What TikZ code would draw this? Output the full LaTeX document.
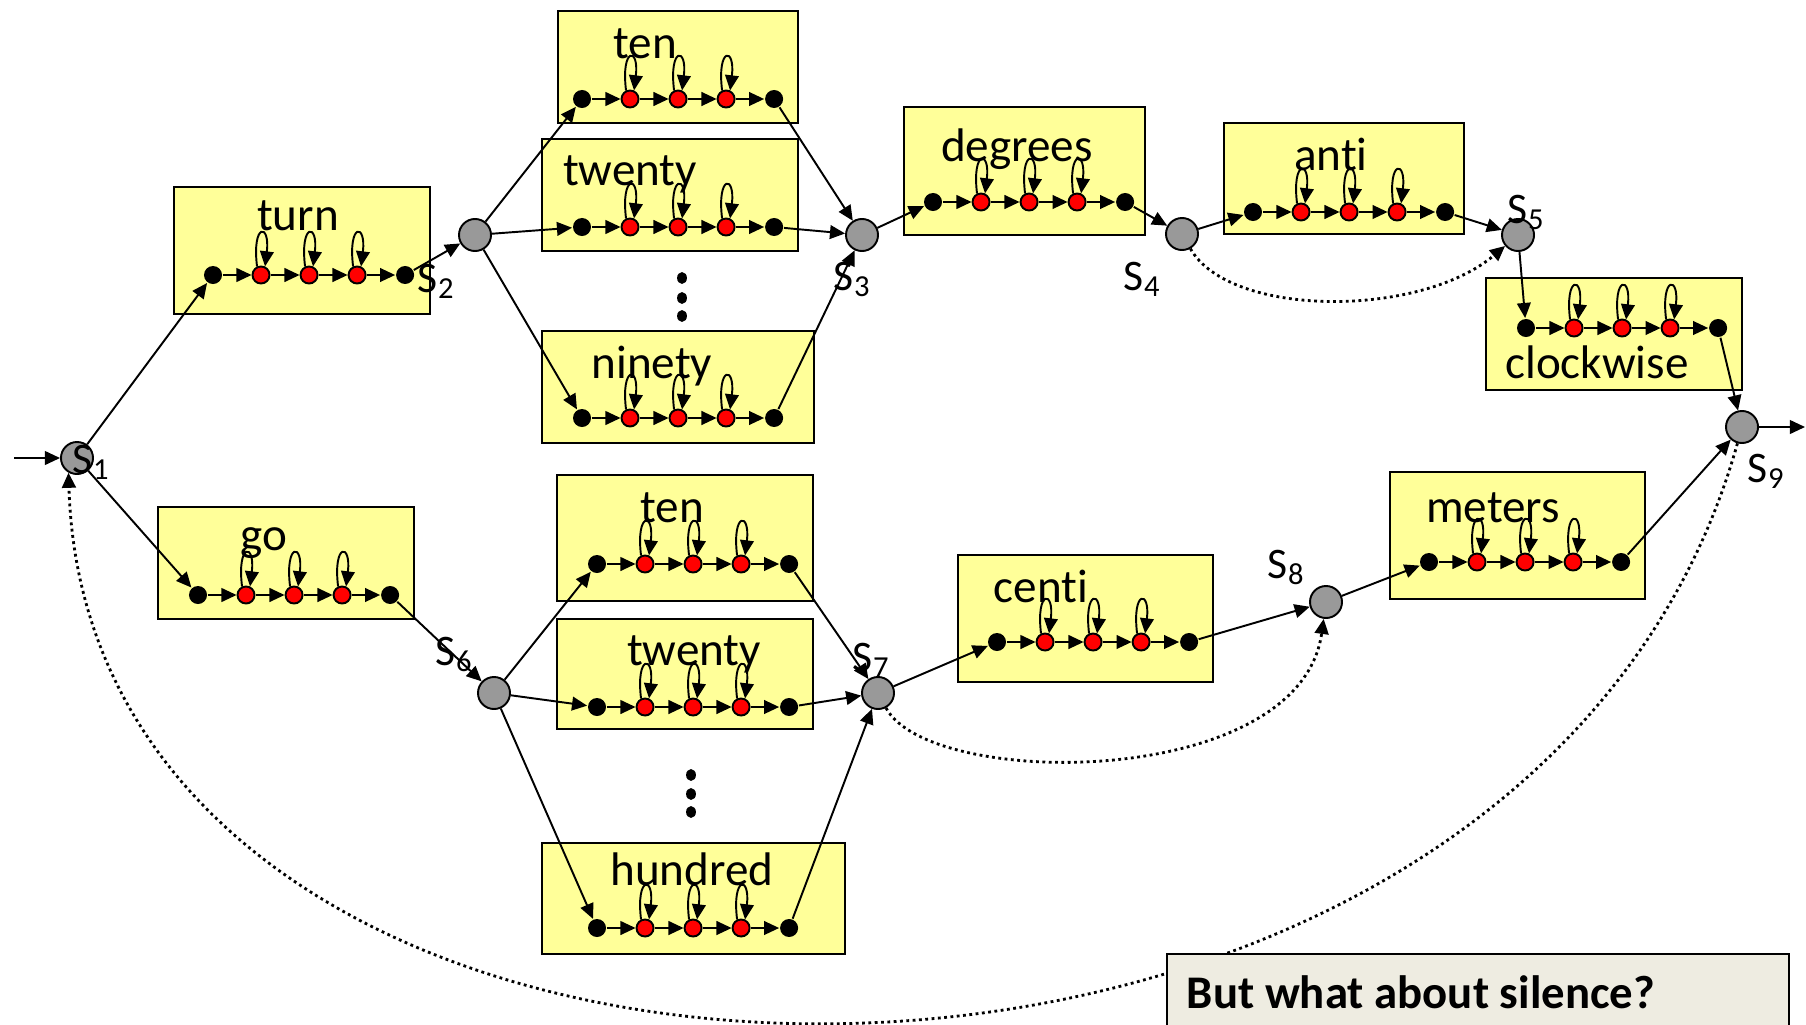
\documentclass[tikz,border=0pt]{standalone}
\usepackage{fontspec}
\setmainfont{Carlito}[Ligatures=NoCommon]
\usetikzlibrary{positioning,arrows.meta}

\definecolor{boxyellow}{HTML}{FFFF99}
\definecolor{stategray}{HTML}{999999}
\definecolor{notetan}{HTML}{EEECE1}

\tikzset{
  >={Triangle[length=4.3pt,width=3.9pt]},
  hmmstate/.style={circle,draw,fill=stategray,inner sep=0pt,minimum size=3.2mm},
  endst/.style={circle,fill=black,inner sep=0pt,minimum size=1.8mm},
  hidst/.style={circle,draw,fill=red,inner sep=0pt,minimum size=1.7mm},
  wordbox/.style={draw,line width=0.65pt,fill=boxyellow},
  word/.style={inner sep=0pt,anchor=base,font=\fontsize{13.4}{16}\selectfont},
  slabel/.style={inner sep=0pt,anchor=base west,font=\fontsize{12.4}{15}\selectfont},
  selfloop/.style={out=97,in=83,min distance=4.4mm,looseness=1},
  skip/.style={draw,densely dotted,line width=0.8pt,->},
}

% one word: box, label and its left-to-right chain
\newcommand{\wordmodel}[6]{%
  \path[wordbox] #3 rectangle #4;
  \node[word] (#1w) at #5 {#6};
  \node[endst] (#1a) at #2 {};
  \node[hidst] (#1b) [right of = #1a] {};
  \node[hidst] (#1c) [right of = #1b] {};
  \node[hidst] (#1d) [right of = #1c] {};
  \node[endst] (#1e) [right of = #1d] {};
  \path[draw,->] (#1a) -- (#1b);
  \path[draw,->] (#1b) -- (#1c);
  \path[draw,->] (#1c) -- (#1d);
  \path[draw,->] (#1d) -- (#1e);
  \path[draw,->] (#1b.115) to[selfloop] (#1b.65);
  \path[draw,->] (#1c.115) to[selfloop] (#1c.65);
  \path[draw,->] (#1d.115) to[selfloop] (#1d.65);
}

\begin{document}
\begin{tikzpicture}[x=0.01cm,y=-0.01cm,node distance=4.8mm,line width=0.55pt]

\useasboundingbox (0,0) rectangle (1806,1024);
\clip (0,0) rectangle (1806,1024);

\wordmodel{turn}{(213,275)}{(174,187)}{(430,314)}{(298,230)}{turn}
\wordmodel{tenA}{(582,99)}{(558,11)}{(798,123)}{(645,58)}{ten}
\wordmodel{twentyA}{(582,227)}{(542,139)}{(798,251)}{(630,185)}{twenty}
\wordmodel{ninety}{(582,418)}{(542,331)}{(814,443)}{(652,378)}{ninety}
\wordmodel{degrees}{(933,202)}{(904,107)}{(1145,235)}{(1017,161)}{degrees}
\wordmodel{anti}{(1253,212)}{(1224,123)}{(1464,234)}{(1331,170)}{anti}
\wordmodel{clock}{(1526,328)}{(1486,278)}{(1742,390)}{(1597,378)}{clockwise}
\wordmodel{go}{(198,595)}{(158,507)}{(414,619)}{(264,550)}{go}
\wordmodel{tenB}{(597,564)}{(557,475)}{(813,601)}{(672,522)}{ten}
\wordmodel{twentyB}{(597,707)}{(557,619)}{(813,729)}{(694,665)}{twenty}
\wordmodel{hundred}{(597,928)}{(542,843)}{(845,954)}{(692,885)}{hundred}
\wordmodel{centi}{(997,642)}{(958,555)}{(1213,682)}{(1041,602)}{centi}
\wordmodel{meters}{(1429,562)}{(1390,472)}{(1645,599)}{(1493,522)}{meters}

% more words
\fill (682,278) ellipse (1.4pt and 1.7pt);
\fill (682,298) ellipse (1.4pt and 1.7pt);
\fill (682,316) ellipse (1.4pt and 1.7pt);
\fill (691,775) ellipse (1.4pt and 1.7pt);
\fill (691,794) ellipse (1.4pt and 1.7pt);
\fill (691,812) ellipse (1.4pt and 1.7pt);

\node[hmmstate] (s1) at (77,458) {};
\node[hmmstate] (s2) at (475,235) {};
\node[hmmstate] (s3) at (862,235) {};
\node[hmmstate] (s4) at (1182,234) {};
\node[hmmstate] (s5) at (1518,235) {};
\node[hmmstate] (s6) at (494,693) {};
\node[hmmstate] (s7) at (878,693) {};
\node[hmmstate] (s8) at (1326,602) {};
\node[hmmstate] (s9) at (1742,427) {};

\coordinate (start) at (14,458);
\coordinate (finish) at (1805,427);

\path[draw,->] (start) -- (s1);
\path[draw,->] (s1) -- (turna);
\path[draw,->] (s1) -- (goa);
\path[draw,->] (turne) -- (s2);
\path[draw,->] (s2) -- (tenAa);
\path[draw,->] (s2) -- (twentyAa);
\path[draw,->] (s2) -- (ninetya);
\path[draw,->] (tenAe) -- (s3);
\path[draw,->] (twentyAe) -- (s3);
\path[draw,->] (ninetye) -- (s3);
\path[draw,->] (s3) -- (degreesa);
\path[draw,->] (degreese) -- (s4);
\path[draw,->] (s4) -- (antia);
\path[draw,->] (antie) -- (s5);
\path[draw,->] (s5) -- (clocka);
\path[draw,->] (clocke) -- (s9);
\path[draw,->] (s9) -- (finish);

\path[draw,->] (goe) -- (s6);
\path[draw,->] (s6) -- (tenBa);
\path[draw,->] (s6) -- (twentyBa);
\path[draw,->] (s6) -- (hundreda);
\path[draw,->] (tenBe) -- (s7);
\path[draw,->] (twentyBe) -- (s7);
\path[draw,->] (hundrede) -- (s7);
\path[draw,->] (s7) -- (centia);
\path[draw,->] (centie) -- (s8);
\path[draw,->] (s8) -- (metersa);
\path[draw,->] (meterse) -- (s9);

% skip arcs
\coordinate (c4a) at (1230,318);
\coordinate (c4b) at (1420,318);
\coordinate (c7a) at (930,790);
\coordinate (c7b) at (1300,790);
\coordinate (c9a) at (1520,1220);
\coordinate (c9b) at (90,1200);
\path[skip] (s4) .. controls (c4a) and (c4b) .. (s5);
\path[skip] (s7) .. controls (c7a) and (c7b) .. (s8);
\path[skip] (s9) .. controls (c9a) and (c9b) .. (s1.240);

\node[slabel] (l1) at (72,473) {S\textsubscript{1}};
\node[slabel] (l2) at (417,292) {S\textsubscript{2}};
\node[slabel] (l3) at (833,290) {S\textsubscript{3}};
\node[slabel] (l4) at (1123,290) {S\textsubscript{4}};
\node[slabel] (l5) at (1507,223) {S\textsubscript{5}};
\node[slabel] (l6) at (435,665) {S\textsubscript{6}};
\node[slabel] (l7) at (852,671) {S\textsubscript{7}};
\node[slabel] (l8) at (1267,578) {S\textsubscript{8}};
\node[slabel] (l9) at (1747,482) {S\textsubscript{9}};

\path[draw,line width=0.65pt,fill=notetan] (1167,954) rectangle (1789,1060);
\node[inner sep=0pt,anchor=base west,font=\fontsize{13.3}{16}\selectfont\bfseries] (silence) at (1186,1008) {But what about silence?};

\end{tikzpicture}
\end{document}
